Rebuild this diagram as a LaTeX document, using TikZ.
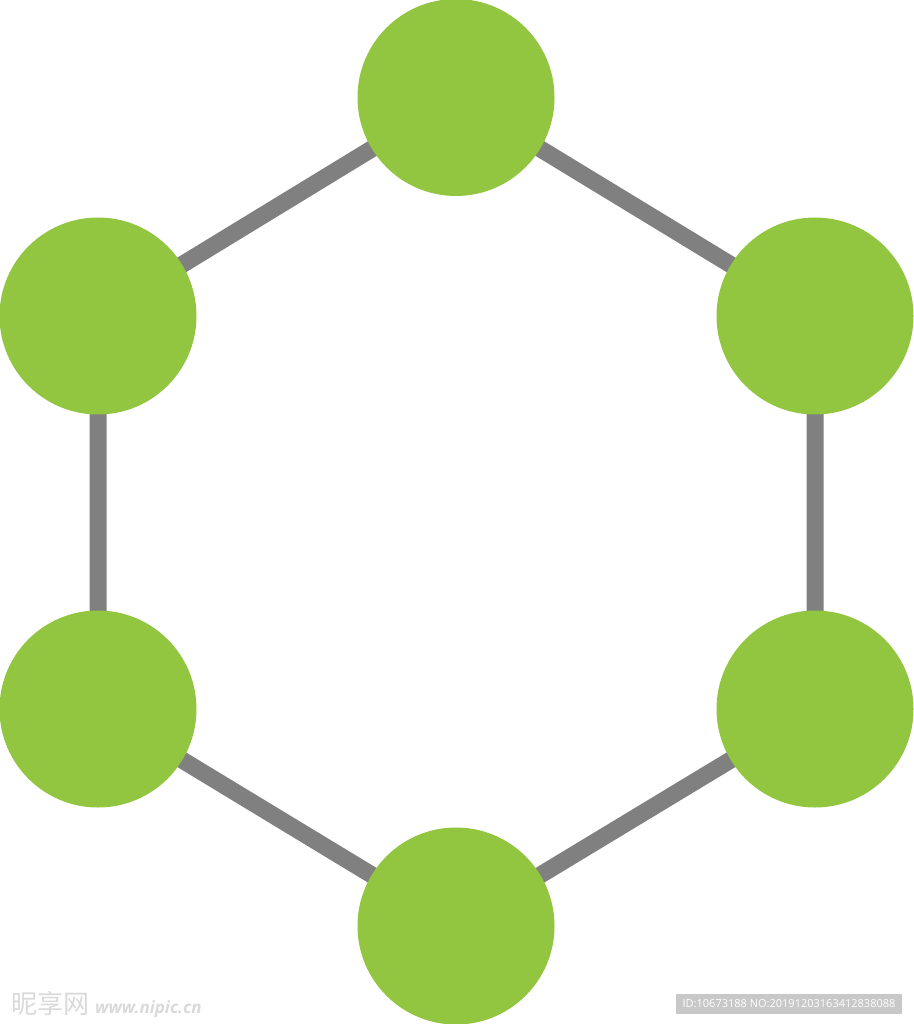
\documentclass[tikz,border=0pt]{standalone}
\usepackage{fontspec}
\newfontfamily\cjk{Noto Sans CJK SC}
\newfontfamily\wmsans{Open Sans}
\usetikzlibrary{backgrounds}
\definecolor{leaf}{HTML}{92C540}
\definecolor{bond}{HTML}{808080}
\definecolor{idbox}{HTML}{C8C8C8}
\tikzset{
  atom/.style={circle, fill=leaf, minimum size=197pt, inner sep=0pt, draw=none},
  link/.style={draw=bond, line width=17pt},
}
\begin{document}
\begin{tikzpicture}[x=1pt,y=-1pt]
\useasboundingbox (0,0) rectangle (913,1024);
\node[atom] (t)  at (456,97.5) {};
\node[atom] (lu) at (98,316) {};
\node[atom] (ru) at (815,316) {};
\node[atom] (ll) at (98,709) {};
\node[atom] (rl) at (815,709) {};
\node[atom] (b)  at (456,926) {};
\begin{scope}[on background layer]
\draw[link] (t.center) -- (ru.center) -- (rl.center) -- (b.center) -- (ll.center) -- (lu.center) -- cycle;
\end{scope}
\node[anchor=west, text=black!15, inner sep=0pt] (wm) at (11,1005) {\cjk\fontsize{26pt}{26pt}\selectfont 昵享网\hspace{6pt}\wmsans\itshape\bfseries\fontsize{17pt}{17pt}\selectfont www.nipic.cn};
\node[fill=idbox, text=white, inner sep=0pt, minimum height=20pt, minimum width=226pt, font=\wmsans\fontsize{11pt}{11pt}\selectfont] (id) at (789,1004) {ID:10673188 NO:20191203163412838088};
\end{tikzpicture}
\end{document}
